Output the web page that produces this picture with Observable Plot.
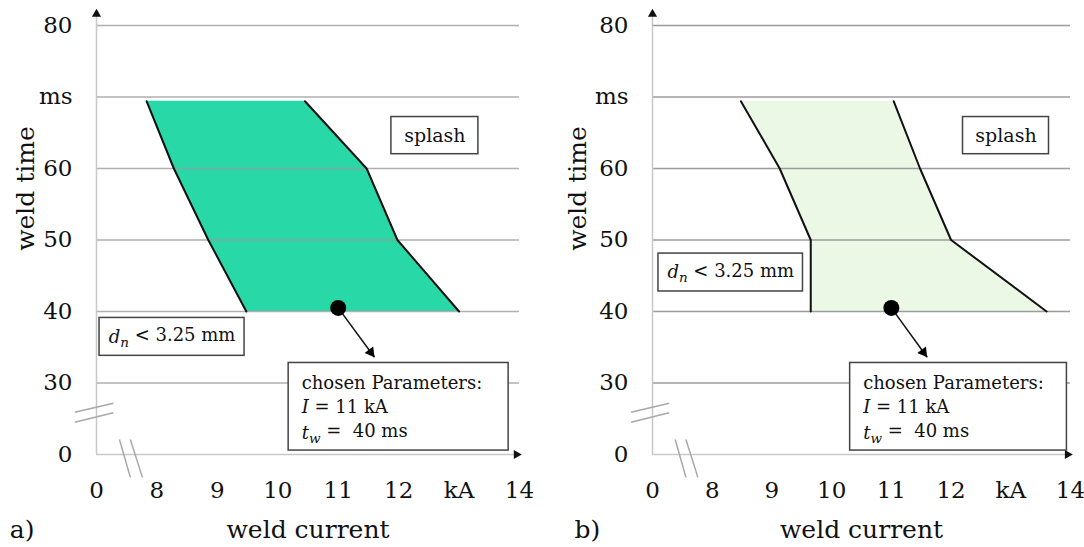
<!DOCTYPE html>
<html><head><meta charset="utf-8">
<script src="https://cdn.jsdelivr.net/npm/d3@7"></script>
<script src="https://cdn.jsdelivr.net/npm/@observablehq/plot@0.6"></script>
<style>
body{margin:0;background:#fff;}
#fig{position:relative;width:1084px;height:547px;overflow:hidden;}
#fig svg{position:absolute;top:0;overflow:visible;}
</style></head><body><div id="fig"></div>
<script>
// ---- axis ticks (broken axes: "0" sits where 7 kA / 20 ms would be) ----
const xTickPos = [7, 8, 9, 10, 11, 12, 13, 14];
const xTickLabels = ["0", "8", "9", "10", "11", "12", "kA", "14"];
const yTickPos = [20, 30, 40, 50, 60, 70, 80];
const yTickLabels = ["0", "30", "40", "50", "60", "ms", "80"];
const gridTimes = [30, 40, 50, 60, 70, 80];

// ---- panel a: weldable window ----
const aTime  = [69.4, 60, 50, 40];
const aLower = [7.83, 8.28, 8.85, 9.48];
const aUpper = [10.45, 11.47, 11.98, 13.0];

// ---- panel b: weldable window ----
const bTime  = [69.4, 60, 50, 40];
const bLower = [8.48, 9.13, 9.65, 9.65];
const bUpper = [11.04, 11.48, 12.0, 13.6];

// ---- chosen parameters ----
const chosenCurrent = 11;
const chosenTime = 40.5;
const arrowEnd = [11.6, 33.6];

// ---- annotation boxes [x1, x2, y1, y2] ----
const aSplashBox = [11.88, 13.32, 62.0, 67.2];
const aDnBox     = [7.05, 9.45, 33.8, 39.1];
const aChosenBox = [10.18, 13.82, 20.55, 32.8];
const bSplashBox = [12.2, 13.64, 62.0, 67.2];
const bDnBox     = [7.1, 9.52, 42.8, 48.1];
const bChosenBox = [10.31, 13.94, 20.55, 32.8];

const splashText = "splash";
const dnText = "*d*_{n} < 3.25 mm";
const chosenLines = ["chosen Parameters:", "*I* = 11 kA", "*t*_{w} =  40 ms"];
const chosenLineTimes = [30.0, 26.6, 23.0];

// ---- axis titles ----
const xTitle = "weld current";
const yTitle = "weld time";

// ---- axis break marks [x1, y1, x2, y2] ----
const yBreak = [[6.64, 25.92, 7.28, 27.17], [6.64, 24.52, 7.28, 25.83]];
const xBreak = [[7.38, 22.1, 7.56, 16.8], [7.56, 22.1, 7.76, 16.8]];

const FONT = "'DejaVu Serif', serif";

function panel(cfg) {
  const rows = cfg.time.map((t, i) => ({t, lo: cfg.lower[i], hi: cfg.upper[i]}));
  const boxes = [cfg.splash, cfg.dn, cfg.chosen].map(b => ({x1: b[0], x2: b[1], y1: b[2], y2: b[3]}));
  const brk = [...yBreak, ...xBreak].map(b => ({x1: b[0], y1: b[1], x2: b[2], y2: b[3]}));
  const fmtX = d => xTickLabels[xTickPos.indexOf(d)];
  const fmtY = d => yTickLabels[yTickPos.indexOf(d)];
  return Plot.plot({
    width: cfg.width, height: 547,
    marginLeft: 96, marginRight: cfg.marginRight, marginTop: 25, marginBottom: 93,
    x: {domain: [7, 14]},
    y: {domain: [20, 80]},
    style: {fontFamily: FONT, background: "transparent", color: "#111"},
    marks: [
      Plot.areaX(rows, {y: "t", x1: "lo", x2: "hi", fill: cfg.fill}),
      Plot.ruleY(gridTimes, {x1: 7, x2: 14, stroke: "#9c9c9c", strokeWidth: 1.5, strokeOpacity: cfg.gridOpacity}),
      Plot.line(rows, {x: "lo", y: "t", stroke: "#111", strokeWidth: 2}),
      Plot.line(rows, {x: "hi", y: "t", stroke: "#111", strokeWidth: 2}),
      // axis lines with arrow heads
      Plot.ruleX([7], {y1: 20, y2: 81.6, stroke: "#c8c8c8", strokeWidth: 1.5}),
      Plot.ruleY([20], {x1: 7, x2: 13.95, stroke: "#c8c8c8", strokeWidth: 1.5}),
      Plot.dot([0], {x: 7, y: 81.6, symbol: "triangle", r: 3.4, fill: "#111", stroke: null}),
      Plot.dot([0], {x: 13.95, y: 20, symbol: "triangle", r: 3.4, fill: "#111", stroke: null, rotate: 90}),
      Plot.link(brk, {x1: "x1", y1: "y1", x2: "x2", y2: "y2", stroke: "#a8a8a8", strokeWidth: 1.5}),
      // boxes
      Plot.rect(boxes, {x1: "x1", x2: "x2", y1: "y1", y2: "y2", fill: "white", stroke: "#444", strokeWidth: 1.5}),
      Plot.text([splashText], {x: (cfg.splash[0] + cfg.splash[1]) / 2, y: (cfg.splash[2] + cfg.splash[3]) / 2, fontSize: 19}),
      Plot.text([dnText], {x: (cfg.dn[0] + cfg.dn[1]) / 2, y: (cfg.dn[2] + cfg.dn[3]) / 2, fontSize: 18, className: "rich"}),
      Plot.text(chosenLines, {x: cfg.chosen[0], y: (d, i) => chosenLineTimes[i], dx: 13, textAnchor: "start", fontSize: 18, className: "rich"}),
      // chosen point and arrow
      Plot.link([0], {x1: chosenCurrent, y1: chosenTime, x2: arrowEnd[0], y2: arrowEnd[1], stroke: "#111", strokeWidth: 1.5}),
      Plot.dot([0], {x: chosenCurrent, y: chosenTime, r: 8, fill: "#000"}),
      Plot.dot([0], {x: arrowEnd[0], y: arrowEnd[1], dx: -3.7, dy: -5, symbol: "triangle", r: 4, fill: "#000", rotate: 143}),
      // axes
      Plot.axisX({ticks: xTickPos, tickFormat: fmtX, tickSize: 0, tickPadding: 27, fontSize: 23, label: null}),
      Plot.axisY({ticks: yTickPos, tickFormat: fmtY, tickSize: 0, tickPadding: 24, fontSize: 23, label: null}),
      // axis titles & panel tag
      Plot.text([xTitle], {x: 10.5, y: 9.5, textAnchor: "middle", lineAnchor: "middle", fontSize: 25}),
      Plot.text([yTitle], {x: cfg.titleX, y: 57.2, textAnchor: "middle", lineAnchor: "middle", rotate: -90, fontSize: 25}),
      Plot.text([cfg.tag], {x: cfg.tagX, y: 9.5, textAnchor: "middle", lineAnchor: "middle", fontSize: 25})
    ]
  });
}

function richify(svg) {
  d3.select(svg).selectAll("g.rich text").each(function () {
    const s = this.textContent;
    const el = d3.select(this);
    el.text(null);
    const re = /\*([^*]+)\*|_\{([^}]+)\}|([^*_]+)/g;
    let m, shifted = false;
    while ((m = re.exec(s))) {
      const ts = el.append("tspan");
      if (m[1]) { ts.text(m[1]).attr("font-style", "italic"); if (shifted) { ts.attr("dy", "-0.3em"); shifted = false; } }
      else if (m[2]) { ts.text(m[2]).attr("font-style", "italic").attr("font-size", "75%").attr("dy", "0.3em"); shifted = true; }
      else { ts.text(m[3]); if (shifted) { ts.attr("dy", "-0.3em"); shifted = false; } }
    }
  });
}

const fig = document.getElementById("fig");
const a = panel({time: aTime, lower: aLower, upper: aUpper, fill: "#28d8a6", gridOpacity: 0.8,
  splash: aSplashBox, dn: aDnBox, chosen: aChosenBox, width: 540, marginRight: 21, titleX: 5.84, tagX: 5.77, tag: "a)"});
const b = panel({time: bTime, lower: bLower, upper: bUpper, fill: "#ebf8e6", gridOpacity: 1,
  splash: bSplashBox, dn: bDnBox, chosen: bChosenBox, width: 528, marginRight: 14, titleX: 5.76, tagX: 5.91, tag: "b)"});
richify(a); richify(b);
a.style.left = "0px";
b.style.left = "556px";
fig.appendChild(a);
fig.appendChild(b);
</script></body></html>
